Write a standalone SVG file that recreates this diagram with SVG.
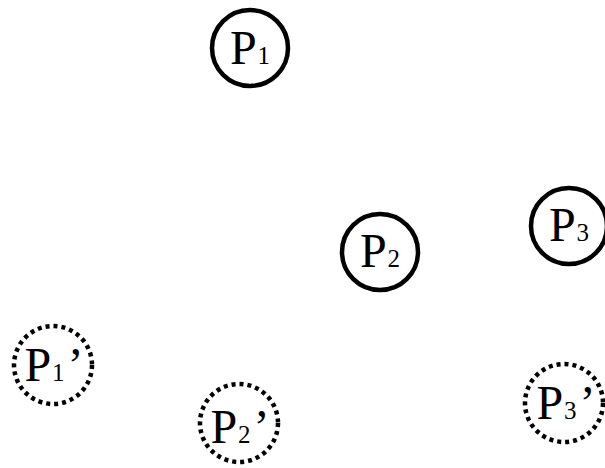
<svg xmlns="http://www.w3.org/2000/svg" width="605" height="468" viewBox="0 0 605 468">
  <style>
    .node { fill: none; stroke: #000; stroke-width: 4.5; }
    .ghost { fill: none; stroke: #000; stroke-width: 4.5; stroke-dasharray: 4 4; }
    .lbl { font-family: "Liberation Serif", "Times New Roman", serif; font-size: 48px; fill: #000; text-anchor: middle; }
    .sub { font-size: 25px; }
  </style>
  <rect width="605" height="468" fill="#fff"/>
  <g id="connectors"/>
  <g id="P1">
    <circle class="node" cx="250" cy="48" r="38"/>
    <text class="lbl" x="250" y="64">P<tspan class="sub" dx="1">1</tspan></text>
  </g>
  <g id="P2">
    <circle class="node" cx="380" cy="252" r="38"/>
    <text class="lbl" x="380" y="267">P<tspan class="sub" dx="1">2</tspan></text>
  </g>
  <g id="P3">
    <circle class="node" cx="569" cy="226" r="38"/>
    <text class="lbl" x="569" y="241">P<tspan class="sub" dx="1">3</tspan></text>
  </g>
  <g id="P1prime">
    <circle class="ghost" cx="53" cy="365" r="39"/>
    <text class="lbl" x="54" y="381">P<tspan class="sub" dx="1">1</tspan><tspan dx="3">’</tspan></text>
  </g>
  <g id="P2prime">
    <circle class="ghost" cx="239" cy="423" r="39"/>
    <text class="lbl" x="240" y="443">P<tspan class="sub" dx="1">2</tspan><tspan dx="3">’</tspan></text>
  </g>
  <g id="P3prime">
    <circle class="ghost" cx="564" cy="403" r="39"/>
    <text class="lbl" x="566" y="419">P<tspan class="sub" dx="1">3</tspan><tspan dx="3">’</tspan></text>
  </g>
</svg>
